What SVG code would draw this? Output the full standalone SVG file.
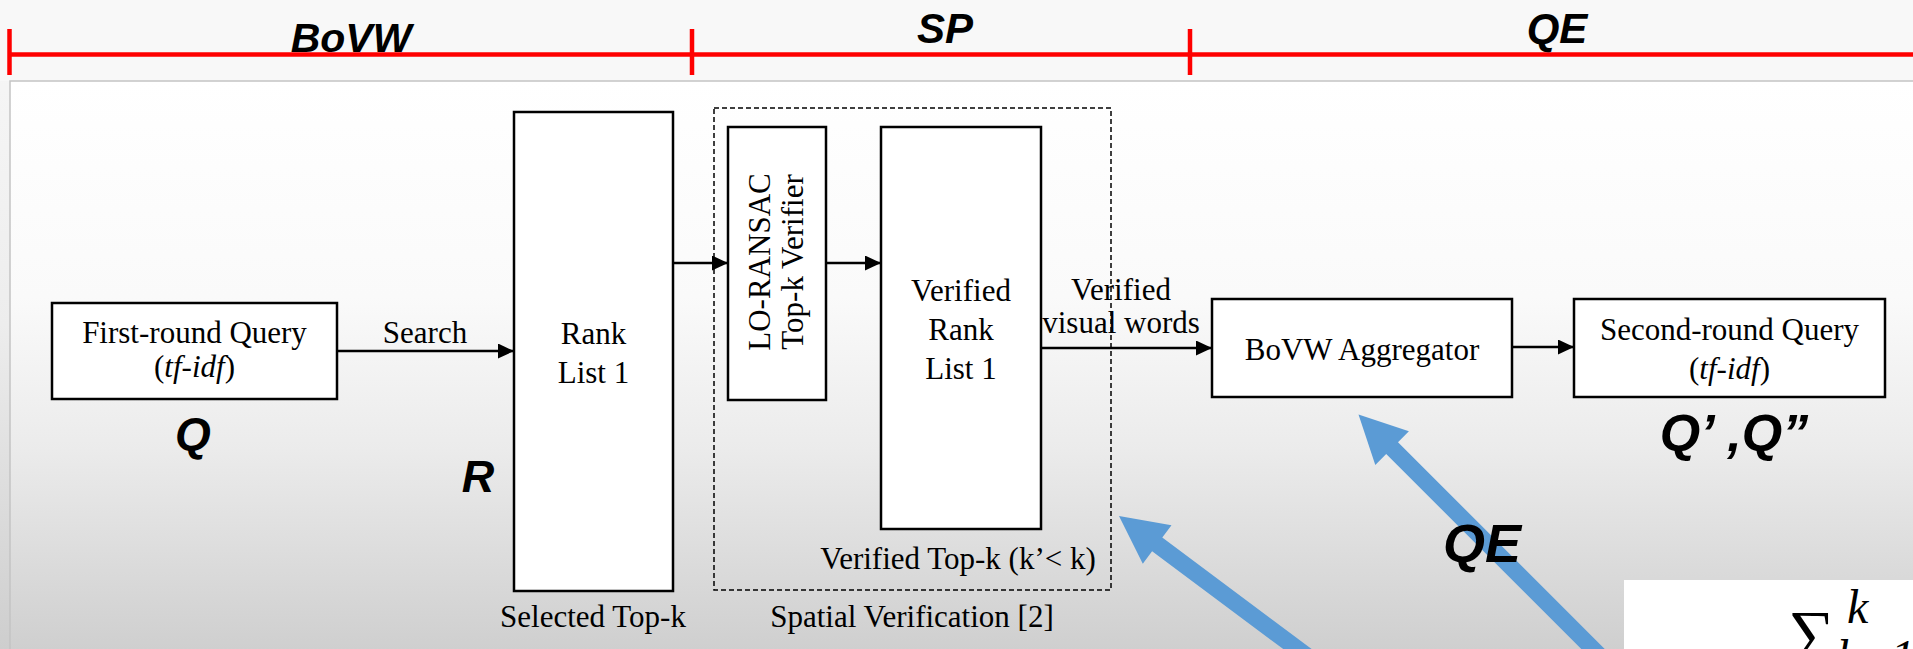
<svg xmlns="http://www.w3.org/2000/svg" width="1913" height="649" viewBox="0 0 1913 649">
<defs>
  <linearGradient id="pageGrad" x1="0" y1="0" x2="0" y2="649" gradientUnits="userSpaceOnUse">
    <stop offset="0" stop-color="#f8f8f8"/>
    <stop offset="0.5" stop-color="#ededed"/>
    <stop offset="1" stop-color="#cecece"/>
  </linearGradient>
  <linearGradient id="panelGrad" x1="0" y1="81" x2="0" y2="649" gradientUnits="userSpaceOnUse">
    <stop offset="0" stop-color="#ffffff"/>
    <stop offset="0.38" stop-color="#fafafa"/>
    <stop offset="0.65" stop-color="#ebebeb"/>
    <stop offset="1" stop-color="#cfcfcf"/>
  </linearGradient>
  <marker id="ah" markerUnits="userSpaceOnUse" markerWidth="16" markerHeight="15" refX="16" refY="7.5" orient="auto">
    <path d="M0,0 L16,7.5 L0,15 z" fill="#000"/>
  </marker>
  <style>
    .box{fill:#fff;stroke:#000;stroke-width:2.5}
    .dash{fill:none;stroke:#000;stroke-width:1.5;stroke-dasharray:5 3}
    .t{font-family:'Liberation Serif','Times New Roman',serif;font-size:31px;fill:#000;text-anchor:middle}
    .lbl{font-family:'Liberation Sans',Arial,sans-serif;font-weight:bold;font-style:italic;fill:#000;text-anchor:middle}
    .conn{stroke:#000;stroke-width:2.5;fill:none;marker-end:url(#ah)}
    .red{stroke:#ff0000;stroke-width:4.5;fill:none}
    .blue{fill:#5b9bd5}
  </style>
</defs>

<g id="background">
  <rect x="0" y="0" width="1913" height="649" fill="url(#pageGrad)"/>
  <rect x="0" y="0" width="1913" height="81" fill="#f8f8f8"/>
  <rect x="10" y="81" width="1910" height="580" fill="url(#panelGrad)" stroke="#c4c4c4" stroke-width="1.5"/>
</g>

<g id="phase-bar">
  <line class="red" x1="8" y1="54.5" x2="1913" y2="54.5"/>
  <line class="red" x1="9.5" y1="29" x2="9.5" y2="75"/>
  <line class="red" x1="692" y1="29" x2="692" y2="75"/>
  <line class="red" x1="1190" y1="29" x2="1190" y2="75"/>
  <text class="lbl" x="351" y="52" font-size="41">BoVW</text>
  <text class="lbl" x="945" y="43" font-size="42">SP</text>
  <text class="lbl" x="1557" y="43" font-size="42">QE</text>
</g>

<g id="node-first-query">
  <rect class="box" x="52" y="303" width="285" height="96"/>
  <text class="t" x="194.5" y="343">First-round Query</text>
  <text class="t" x="194.5" y="377">(<tspan font-style="italic">tf-idf</tspan>)</text>
  <text class="lbl" x="193" y="450" font-size="46">Q</text>
</g>

<g id="node-rank-list">
  <rect class="box" x="514" y="112" width="159" height="479"/>
  <text class="t" x="593.5" y="344">Rank</text>
  <text class="t" x="593.5" y="383">List 1</text>
  <text class="lbl" x="478" y="492" font-size="45">R</text>
  <text class="t" x="593" y="627">Selected Top-k</text>
</g>

<g id="node-spatial-verification">
  <rect class="dash" x="714" y="108" width="397" height="482"/>
  <text class="t" x="958" y="569">Verified Top-k (k’&lt; k)</text>
  <text class="t" x="912" y="627">Spatial Verification [2]</text>
</g>

<g id="node-lo-ransac">
  <rect class="box" x="728" y="127" width="98" height="273"/>
  <text class="t" font-size="32" transform="translate(770,262) rotate(-90)" x="0" y="0">LO-RANSAC</text>
  <text class="t" font-size="32" transform="translate(803,262) rotate(-90)" x="0" y="0">Top-k Verifier</text>
</g>

<g id="node-verified-rank-list">
  <rect class="box" x="881" y="127" width="160" height="402"/>
  <text class="t" x="961" y="301">Verified</text>
  <text class="t" x="961" y="340">Rank</text>
  <text class="t" x="961" y="379">List 1</text>
</g>

<g id="node-bovw-aggregator">
  <rect class="box" x="1212" y="299" width="300" height="98"/>
  <text class="t" x="1362" y="360">BoVW Aggregator</text>
</g>

<g id="node-second-query">
  <rect class="box" x="1574" y="299" width="311" height="98"/>
  <text class="t" x="1729.5" y="340">Second-round Query</text>
  <text class="t" x="1729.5" y="379">(<tspan font-style="italic">tf-idf</tspan>)</text>
  <text class="lbl" x="1734" y="451" font-size="52">Q’ ,Q”</text>
</g>

<g id="connectors">
  <path class="conn" d="M337,351 H514"/>
  <text class="t" x="425" y="343">Search</text>
  <path class="conn" d="M673,263 H728"/>
  <path class="conn" d="M826,263 H881"/>
  <path class="conn" d="M1041,348 H1212"/>
  <text class="t" x="1121" y="300" font-size="27">Verified</text>
  <text class="t" x="1121" y="333" font-size="27">visual words</text>
  <path class="conn" d="M1512,347 H1574"/>
  <polygon class="blue" points="1119,516 1171.5,525.2 1162.3,537.6 1322.6,657.2 1312.5,670.8 1152.1,551.3 1142.8,563.7"/>
  <polygon class="blue" points="1358.5,414.5 1408.9,431.3 1398,442.2 1624.2,668.5 1612.5,680.2 1386.2,454 1375.3,464.9"/>
  <text class="lbl" x="1482" y="562" font-size="54">QE</text>
</g>

<g id="node-formula">
  <rect x="1624" y="580" width="289" height="69" fill="#ffffff"/>
  <text x="1788" y="656" font-family="'Liberation Serif','Times New Roman',serif" font-size="66" fill="#000">∑</text>
  <text x="1847" y="623" font-family="'Liberation Serif','Times New Roman',serif" font-size="48" font-style="italic" fill="#000">k</text>
  <text x="1837" y="673" font-family="'Liberation Serif','Times New Roman',serif" font-size="48" font-style="italic" fill="#000">k=1</text>
</g>
</svg>
